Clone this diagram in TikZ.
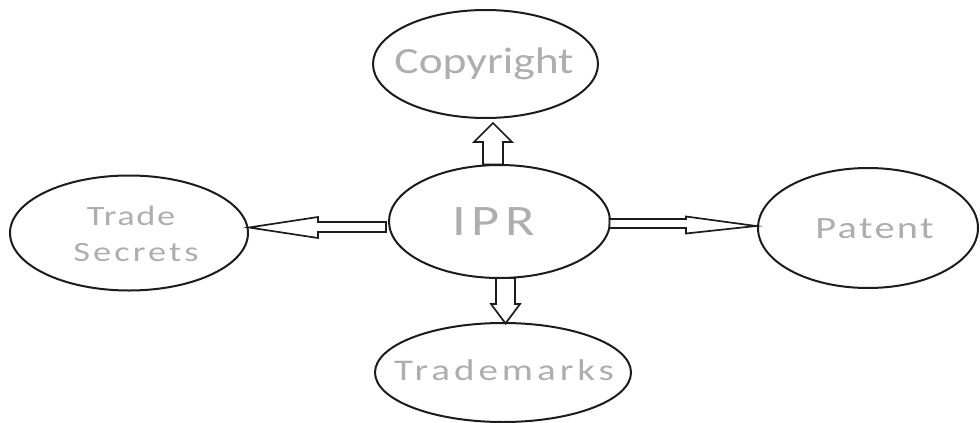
\documentclass[tikz,border=0pt]{standalone}
\usepackage{fontspec}
\setmainfont{Carlito}
\usetikzlibrary{shapes.geometric,calc}
\definecolor{ink}{RGB}{28,28,28}
\definecolor{txt}{RGB}{174,174,174}
\newcommand{\lblfont}[3]{\fontsize{#1}{#1}\selectfont\addfontfeature{FakeStretch=#2,LetterSpace=#3}}
\begin{document}
\begin{tikzpicture}[x=1pt,y=-1pt,
  oval/.style={ellipse,draw=ink,line width=2pt,inner sep=0pt},
  lbl/.style={text=txt,inner sep=0pt,anchor=base},
  blk/.style={draw=ink,line width=1.7pt,fill=white,line join=miter}]
\useasboundingbox[fill=white] (0,0) rectangle (980,423);
% ellipses
\node[oval,minimum width=225pt,minimum height=108pt] (copy) at (485.5,64) {};
\node[oval,minimum width=221pt,minimum height=113pt] (ipr) at (499.5,221.5) {};
\node[oval,minimum width=238pt,minimum height=115pt] (ts) at (129,233) {};
\node[oval,minimum width=220pt,minimum height=120pt] (pat) at (868,228) {};
\node[oval,minimum width=256pt,minimum height=99pt] (tm) at (503,372.5) {};
% labels
\node[lbl,font=\lblfont{37}{1.23}{0}] (tcopy) at (484,73.5) {Copyright};
\node[lbl,font=\lblfont{43.5}{1.25}{13}] (tipr) at (494,235) {IPR};
\node[lbl,font=\lblfont{28}{1.3}{5.6}] (ttrade) at (131,225) {Trade};
\node[lbl,font=\lblfont{28}{1.3}{11}] (tsec) at (136,261.5) {Secrets};
\node[lbl,font=\lblfont{31}{1.3}{7.7}] (tpat) at (874.5,238) {Patent};
\node[lbl,font=\lblfont{30}{1.3}{13.3}] (ttm) at (504,380) {Trademarks};
% block arrows
% up: IPR -> Copyright
\draw[blk] ($(ipr.north)+(-16.5,0.5)$) -- ($(ipr.north)+(-16.5,-22)$) -- ($(ipr.north)+(-25.5,-22)$)
  -- ($(copy.south)+(7.5,4)$) -- ($(ipr.north)+(12.5,-22)$) -- ($(ipr.north)+(3.5,-22)$)
  -- ($(ipr.north)+(3.5,0.5)$) -- cycle;
% right: IPR -> Patent
\draw[blk] ($(ipr.east)+(-1.5,-2.5)$) -- ($(ipr.east)+(75,-2.5)$) -- ($(ipr.east)+(75,-5)$)
  -- ($(pat.west)+(-1,-2)$) -- ($(ipr.east)+(75,12)$) -- ($(ipr.east)+(75,6.5)$)
  -- ($(ipr.east)+(-1.5,6.5)$) -- cycle;
% left: IPR -> Trade Secrets
\draw[blk] ($(ipr.west)+(-2,0.5)$) -- ($(ts.east)+(69,-11)$) -- ($(ts.east)+(69,-16)$)
  -- ($(ts.east)+(0,-5.5)$) -- ($(ts.east)+(69,5)$) -- ($(ts.east)+(69,-1)$)
  -- ($(ipr.west)+(-2,10.5)$) -- cycle;
% down: IPR -> Trademarks
\draw[blk] ($(ipr.south)+(-3.5,-1)$) -- ($(ipr.south)+(-3.5,25)$) -- ($(ipr.south)+(-8.5,25)$)
  -- ($(tm.north)+(2.5,1.5)$) -- ($(ipr.south)+(20.5,25)$) -- ($(ipr.south)+(15.5,25)$)
  -- ($(ipr.south)+(15.5,-1)$) -- cycle;
\end{tikzpicture}
\end{document}
